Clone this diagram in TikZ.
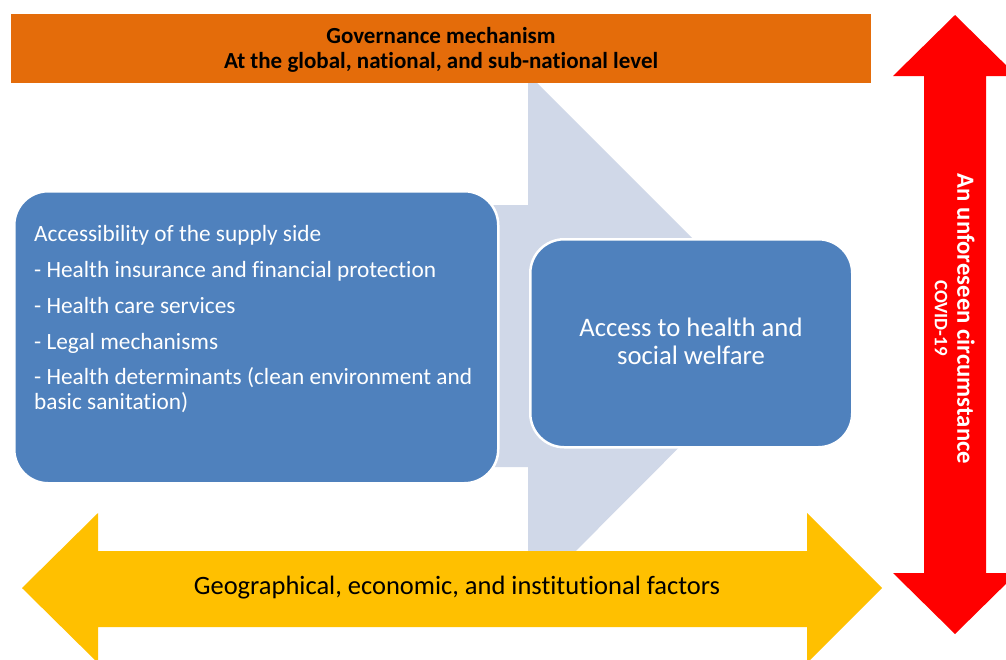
\documentclass[tikz,border=0pt]{standalone}
\usepackage{fontspec}
\setmainfont{Carlito}[Ligatures=NoCommon]
\definecolor{orangebar}{HTML}{E46C0A}
\definecolor{bluebox}{HTML}{4F81BD}
\definecolor{grayarrow}{HTML}{D0D8E8}
\definecolor{yellowarrow}{HTML}{FFC000}
\definecolor{redarrow}{HTML}{FF0000}
\begin{document}
\begin{tikzpicture}[x=1pt,y=-1pt,
  bluestyle/.style={fill=bluebox, draw=white, line width=2.5pt, rounded corners=34pt, inner sep=0pt},
  orangestyle/.style={fill=orangebar, inner sep=0pt},
  wtext/.style={text=white, inner sep=0pt, font=\fontsize{23.3}{25}\selectfont},
  ]
\useasboundingbox (0,0) rectangle (1006,659);
\fill[white] (0,0) rectangle (1006,659);
% gray background arrow
\fill[grayarrow] (300,205) -- (528,205) -- (528,74) -- (790,336) -- (528,599) -- (528,467) -- (300,467) -- cycle;
% yellow double arrow
\fill[yellowarrow] (22,588) -- (98,513) -- (98,551) -- (807,551) -- (807,513) -- (882,588) -- (807,663) -- (807,627) -- (98,627) -- (98,663) -- cycle;
\node[inner sep=0pt, font=\fontsize{26.5}{30}\selectfont] (geo) at (457,588) {Geographical, economic, and institutional factors};
% orange bar
\node[orangestyle, anchor=north west, minimum width=860pt, minimum height=69pt] (gov) at (11,14) {};
\node[inner sep=0pt, font=\fontsize{23}{27}\selectfont\bfseries] (gov1) at (441,36) {Governance mechanism};
\node[inner sep=0pt, font=\fontsize{23}{27}\selectfont\bfseries] (gov2) at (441,62) {At the global, national, and sub-national level};
% red double arrow
\fill[redarrow] (955,15) -- (1017,76) -- (986,76) -- (986,573) -- (1017,573) -- (955,634) -- (893,573) -- (924,573) -- (924,76) -- (893,76) -- cycle;
\node[rotate=-90, text=white, inner sep=0pt, font=\fontsize{24.7}{29}\selectfont\bfseries] (unf) at (966,319) {An unforeseen circumstance};
\node[rotate=-90, text=white, inner sep=0pt, font=\fontsize{19}{22}\selectfont\bfseries] (covid) at (941,318) {COVID-19};
% blue boxes
\node[bluestyle, anchor=north west, minimum width=484pt, minimum height=292pt] (supply) at (13,190) {};
\node[bluestyle, anchor=north west, minimum width=322pt, minimum height=208pt] (access) at (529,238) {};
\node[wtext, anchor=base west] (l1) at (34,241) {Accessibility of the supply side};
\node[wtext, anchor=base west] (l2) at (34,277) {- Health insurance and financial protection};
\node[wtext, anchor=base west] (l3) at (34,313) {- Health care services};
\node[wtext, anchor=base west] (l4) at (34,349) {- Legal mechanisms};
\node[wtext, anchor=base west] (l5) at (34,384) {- Health determinants (clean environment and};
\node[wtext, anchor=base west] (l6) at (34,409) {basic sanitation)};
\node[text=white, inner sep=0pt, align=center, font=\fontsize{26.7}{28}\selectfont] (acct) at (691,341) {Access to health and\\social welfare};
\end{tikzpicture}
\end{document}
